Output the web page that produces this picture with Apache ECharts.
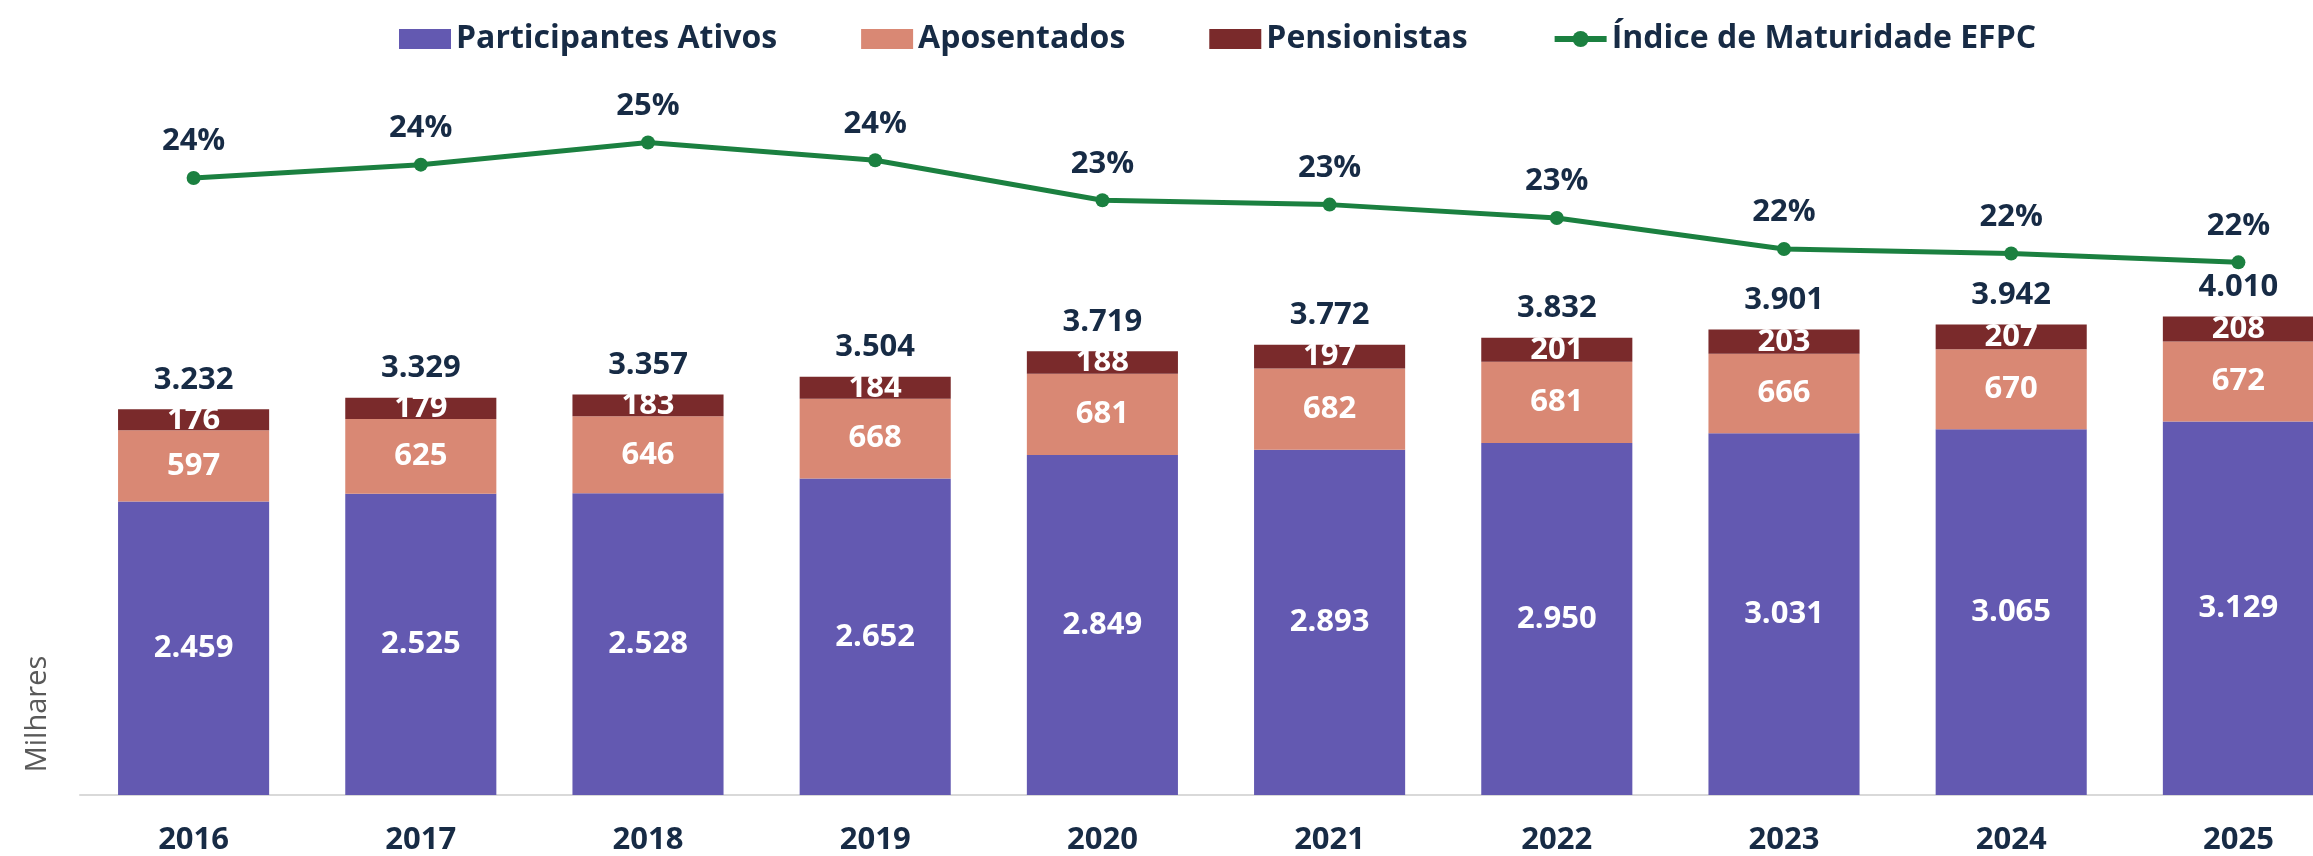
<!DOCTYPE html>
<html>
<head>
<meta charset="utf-8">
<script src="https://cdn.jsdelivr.net/npm/echarts@6/dist/echarts.min.js"></script>
<style>
    html, body {
        margin: 0;
        padding: 0;
        background: #ffffff;
    }
    #chart {
        width: 2313px;
        height: 856px;
    }
</style>
</head>
<body>
<div id="chart"></div>
<script>
    const years = ['2016', '2017', '2018', '2019', '2020', '2021', '2022', '2023', '2024', '2025'];
    const ativos = [2459, 2525, 2528, 2652, 2849, 2893, 2950, 3031, 3065, 3129];
    const aposentados = [597, 625, 646, 668, 681, 682, 681, 666, 670, 672];
    const pensionistas = [176, 179, 183, 184, 188, 197, 201, 203, 207, 208];
    const totais = [3232, 3329, 3357, 3504, 3719, 3772, 3832, 3901, 3942, 4010];
    const indice = [23.9, 24.2, 24.7, 24.3, 23.4, 23.3, 23.0, 22.3, 22.2, 22.0];

    const navy = '#172b45';
    const font = 'Open Sans';

    function milhar(v) {
        return String(v).replace(/\B(?=(\d{3})+(?!\d))/g, '.');
    }

    const insideLabel = {
        show: true,
        position: 'inside',
        color: '#ffffff',
        fontFamily: font,
        fontWeight: 'bold',
        fontSize: 31,
        formatter: p => milhar(p.value)
    };

    const chart = echarts.init(document.getElementById('chart'));

    const option = {
        animation: false,
        textStyle: { fontFamily: font },
        legend: {
            data: [
                { name: 'Participantes Ativos', icon: 'rect' },
                { name: 'Aposentados', icon: 'rect' },
                { name: 'Pensionistas', icon: 'rect' },
                { name: 'Índice de Maturidade EFPC', lineStyle: { width: 6 } }
            ],
            left: 394,
            top: 14,
            itemWidth: 52,
            itemHeight: 20,
            itemGap: 84,
            textStyle: {
                color: navy,
                fontFamily: font,
                fontWeight: 'bold',
                fontSize: 32,
                lineHeight: 40
            }
        },
        grid: {
            left: 80,
            top: 79,
            width: 2272,
            height: 716,
            outerBoundsMode: 'none'
        },
        graphic: [{
            type: 'text',
            x: 38,
            y: 714,
            rotation: Math.PI / 2,
            style: {
                text: 'Milhares',
                fill: '#595959',
                font: '29px "Open Sans"',
                align: 'center',
                verticalAlign: 'middle'
            }
        }],
        xAxis: {
            type: 'category',
            data: years,
            axisTick: { show: false },
            axisLine: { lineStyle: { color: '#d9d9d9', width: 2 } },
            axisLabel: {
                color: navy,
                fontFamily: font,
                fontWeight: 'bold',
                fontSize: 31,
                margin: 30
            }
        },
        yAxis: [
            { type: 'value', min: 0, max: 6000, show: false },
            { type: 'value', min: 10, max: 26.13, show: false }
        ],
        series: [
            {
                name: 'Participantes Ativos',
                type: 'bar',
                stack: 'total',
                data: ativos,
                barCategoryGap: '33.5%',
                barGap: '-100%',
                itemStyle: { color: '#6359b1' },
                label: insideLabel
            },
            {
                name: 'Aposentados',
                type: 'bar',
                stack: 'total',
                data: aposentados,
                barGap: '-100%',
                itemStyle: { color: '#d98874' },
                label: insideLabel
            },
            {
                name: 'Pensionistas',
                type: 'bar',
                stack: 'total',
                data: pensionistas,
                barGap: '-100%',
                itemStyle: { color: '#7a2a2b' },
                label: insideLabel
            },
            {
                name: 'Total',
                type: 'bar',
                data: totais,
                barGap: '-100%',
                z: 1,
                itemStyle: { color: 'transparent' },
                label: {
                    show: true,
                    position: 'top',
                    distance: 14,
                    color: navy,
                    fontFamily: font,
                    fontWeight: 'bold',
                    fontSize: 31,
                    formatter: p => milhar(p.value)
                }
            },
            {
                name: 'Índice de Maturidade EFPC',
                type: 'line',
                yAxisIndex: 1,
                data: indice,
                symbol: 'circle',
                symbolSize: 14,
                lineStyle: { color: '#1b8040', width: 5 },
                itemStyle: { color: '#1b8040' },
                label: {
                    show: true,
                    position: 'top',
                    distance: 14,
                    color: navy,
                    fontFamily: font,
                    fontWeight: 'bold',
                    fontSize: 31,
                    formatter: p => Math.round(p.value) + '%'
                }
            }
        ]
    };

    chart.setOption(option);
</script>
</body>
</html>
